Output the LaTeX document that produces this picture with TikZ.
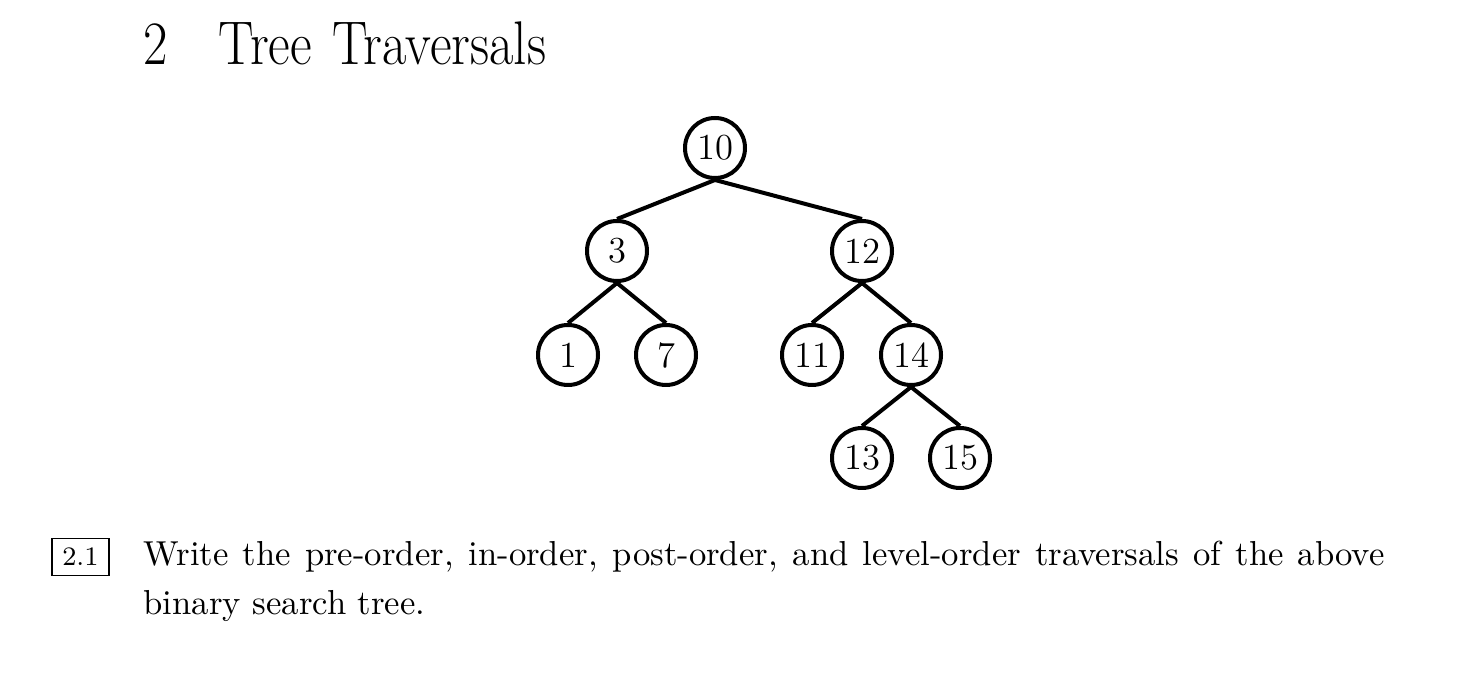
\documentclass[tikz,border=0pt]{standalone}
\usepackage{graphicx}
\begin{document}
\begin{tikzpicture}[x=0.3pt,y=-0.3pt,
  tnode/.style={circle,draw,line width=1.2pt,minimum size=18pt,inner sep=0pt,font=\fontsize{11}{13}\selectfont},
  tedge/.style={line width=1.2pt},
  titletext/.style={anchor=base west,inner sep=0pt,font=\fontsize{18.5}{22}\selectfont}]
\useasboundingbox (0,0) rectangle (1476,677);
% heading
\node[titletext] (secnum) at (143,65) {\scalebox{0.86}[1]{2}};
\node[titletext] (sectitle) at (218,65) {\scalebox{0.86}[1]{Tree\hspace{1.7pt} Traversals}};
% tree
\node[tnode] (n10) at (715,148) {10};
\node[tnode] (n3) at (617,251) {3};
\node[tnode] (n12) at (862,251) {12};
\node[tnode] (n1) at (568,355) {1};
\node[tnode] (n7) at (666,355) {7};
\node[tnode] (n11) at (812,355) {11};
\node[tnode] (n14) at (911,355) {14};
\node[tnode] (n13) at (862,458) {13};
\node[tnode] (n15) at (960,458) {15};
\draw[tedge] (n10.south) -- (n3.north);
\draw[tedge] (n10.south) -- (n12.north);
\draw[tedge] (n3.south) -- (n1.north);
\draw[tedge] (n3.south) -- (n7.north);
\draw[tedge] (n12.south) -- (n11.north);
\draw[tedge] (n12.south) -- (n14.north);
\draw[tedge] (n14.south) -- (n13.north);
\draw[tedge] (n14.south) -- (n15.north);
% question
\node[draw,line width=0.4pt,inner sep=0pt,minimum width=17.1pt,minimum height=11.1pt,
  text height=5.15pt,text depth=0pt,font=\fontsize{8}{9.6}\selectfont,anchor=base] (qnum) at (80.4,565.7) {2.1};
\node[anchor=base west,inner sep=0pt,text width=372.3pt,align=justify,
  font=\fontsize{10.4}{14.6}\selectfont] (qtext) at (143,565.7)
  {Write the pre-order, in-order, post-order, and level-order traversals of the above\linebreak binary search tree.};
\end{tikzpicture}
\end{document}
